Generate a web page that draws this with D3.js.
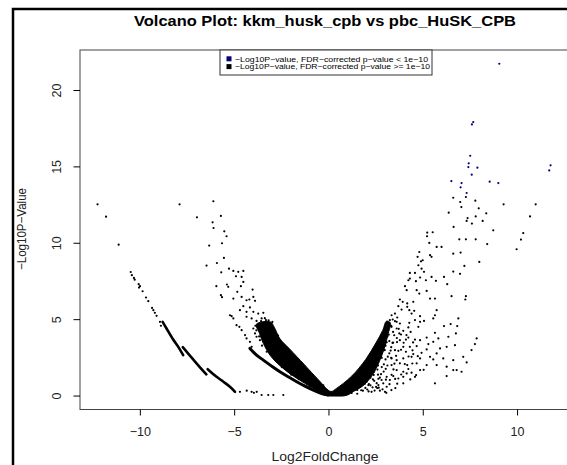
<!DOCTYPE html>
<html>
<head>
<meta charset="utf-8">
<script src="https://cdn.jsdelivr.net/npm/d3@7"></script>
<style>
  body { margin: 0; background: #fff; }
  svg { display: block; font-family: "Liberation Sans", Arial, sans-serif; }
</style>
</head>
<body>
<script>
// tick values
var xTicks = [-10, -5, 0, 5, 10];
var yTicks = [0, 5, 10, 15, 20];

var legendLabels = ["\u2212Log10P\u2212value,  FDR\u2212corrected p\u2212value < 1e\u221210",
                    "\u2212Log10P\u2212value, FDR\u2212corrected p\u2212value >= 1e\u221210"];

// genes with FDR-corrected p < 1e-10  [log2FC, -log10 p]
var sigPoints = [[9.03,21.75],[7.65,17.93],[7.58,17.78],[7.49,15.73],[7.41,15.23],[7.39,14.99],
  [7.87,14.95],[7.57,14.49],[6.49,14.07],[7.03,13.94],[6.98,13.66],[8.52,14.03],[8.98,13.94],
  [7.30,13.29],[11.75,15.10],[11.68,14.77]];

// up-regulated side, the rest
var rightPoints = [[6.59,12.98],[7.26,13.03],[6.96,12.70],[7.76,12.79],[7.02,12.37],[7.94,12.29],
  [9.26,12.55],[10.96,12.55],[6.35,12.0],[7.78,11.76],[8.34,11.96],[7.35,11.65],[7.30,11.46],
  [7.58,11.29],[8.15,11.46],[10.66,11.76],[6.61,11.07],[8.71,10.85],[5.21,10.70],[5.50,10.72],
  [5.20,10.46],[6.91,10.26],[7.26,10.26],[7.78,10.26],[10.30,10.67],[10.18,10.24],[5.32,10.02],
  [8.39,9.95],[5.71,9.76],[5.97,9.76],[9.95,9.61],
  [4.79,9.43],[4.70,9.11],[4.88,8.82],[4.97,8.89],[5.36,9.22],[5.44,9.11],[6.59,9.32],[6.98,9.39],
  [7.18,8.52],[6.59,8.15],[6.95,8.0],[7.97,8.78],[4.74,8.56],[4.91,8.34],[5.04,8.13],[4.29,8.06],
  [4.56,8.06],[4.21,7.58],[4.29,7.69],[4.03,7.19],[4.12,6.93],[4.61,7.52],[4.83,7.76],[5.14,7.58],
  [5.44,7.80],[5.67,7.54],[6.10,7.80],[6.27,7.32],[4.65,6.93],[4.79,6.71],[5.18,6.88],[5.62,6.38],
  [5.36,6.38],[6.50,6.54],[7.26,6.54],[7.23,6.32],[3.76,6.32],[3.91,6.17],[4.15,6.06],[4.47,6.17],
  [3.68,5.88],[3.85,5.66],[4.15,5.84],[4.26,5.62],[4.38,5.40],[4.52,5.58],[4.83,5.23],[3.50,5.40],
  [3.62,5.14],[3.32,5.29],[3.38,5.01],[5.71,5.62],[5.62,5.29],[5.53,5.08],[3.59,4.86],[3.76,4.75],
  [4.26,4.79],[4.56,4.97],[4.83,4.86],[5.04,4.92],[4.74,4.53],[4.21,4.49],[4.33,4.20],[3.94,4.27],
  [3.73,4.10],[3.23,4.97],[3.32,4.53],[3.59,4.42],[3.15,4.75],[3.76,3.66],[4.08,3.70],[4.21,3.83],
  [4.56,3.70],[4.83,3.66],[5.18,3.83],[5.62,4.14],[6.10,4.58],[6.45,4.71],[6.86,5.08],[6.80,4.58],
  [6.73,4.10],[6.33,3.88],[5.80,3.77],[5.53,3.55],[5.27,3.40],[4.65,3.27],[4.29,3.22],[3.94,3.22],
  [3.68,2.96],[4.08,2.90],[4.47,2.75],[4.91,2.83],[5.18,3.05],[5.71,2.79],[5.89,3.12],[6.24,3.22],
  [6.68,3.33],[7.83,3.77],[7.74,3.40],[7.56,3.01],[7.12,2.57],[6.59,2.35],[6.06,2.46],[5.53,2.40],
  [5.36,2.57],[4.83,2.46],[4.38,2.57],[3.94,2.46],[3.59,2.35],[3.32,2.46],[3.76,2.14],[4.15,2.03],
  [4.65,2.14],[5.18,2.03],[5.71,2.03],[6.24,1.92],[6.77,1.70],[7.30,2.20],[7.03,1.59],[3.32,2.03],
  [3.59,1.70],[3.94,1.59],[4.38,1.53],[4.83,1.70],[3.94,1.26],[4.12,1.48],[3.41,1.31],[3.06,1.26],
  [3.23,1.05],[3.68,1.15],[4.56,1.26],[5.62,0.83],[6.24,1.31],[6.59,1.70],[2.79,1.05],[2.88,0.83],
  [2.62,0.72],[3.06,0.61],[2.70,0.35],[2.26,0.28],[2.97,0.28],[1.82,1.05],[2.0,0.94],[2.09,0.72],
  [1.64,0.61],[3.94,0.83],[3.04,0.21],[2.56,0.52],
  [3.0,4.2],[3.1,3.9],[3.2,3.6],[3.0,3.3],[2.9,3.0],[3.3,3.2],[3.4,3.5],[3.5,3.0],[3.2,2.8],
  [2.8,2.5],[3.0,2.4],[3.3,2.5],[2.6,2.0],[2.8,1.9],[3.1,2.0],[2.4,1.6],[2.6,1.4],[2.9,1.6],
  [2.2,1.2],[2.4,1.0],[2.7,1.2],[1.9,0.8],[2.2,0.7],[2.5,0.6],[1.5,0.4],[1.8,0.35],[2.1,0.3],
  [1.2,0.2],[1.5,0.15],[3.6,3.8],[3.4,4.2],[3.7,4.4],[3.3,4.6],[3.5,4.9],
  [1.32,0.41],[1.71,0.38],[2.03,0.43],[2.42,0.36],[2.84,0.44],[3.31,0.39],[1.47,0.56],[1.93,0.53],
  [2.31,0.57],[2.64,0.55],[3.52,0.52],[1.63,0.82],[2.12,0.79],[2.53,0.84],[3.21,0.78],[3.62,0.81],
  [1.87,1.12],[2.33,1.09],[2.62,1.13],[3.02,1.07],[3.51,1.12],[4.31,1.09],[2.03,1.41],[2.37,1.38],
  [2.76,1.43],[3.32,1.39],[3.83,1.41],[4.62,1.37],[2.27,1.76],[2.57,1.73],[3.01,1.78],[3.42,1.74],
  [4.21,1.77],[5.02,1.72],[2.52,2.11],[2.91,2.08],[3.47,2.12],[4.02,2.09],[4.42,2.13],[2.76,2.62],
  [3.12,2.58],[3.56,2.63],[4.22,2.59],[4.71,2.61],[2.96,3.01],[3.27,2.98],[3.82,3.03],[4.43,2.99],
  [3.06,3.52],[3.37,3.48],[3.61,3.53],[3.96,3.49],[4.46,3.51],[3.17,4.02],[3.46,3.98],[3.82,4.03],
  [4.11,3.99]];

// down-regulated side, scattered
var leftPoints = [[-12.27,12.55],[-11.82,11.74],[-11.15,9.91],[-7.92,12.55],[-7.0,11.70],
  [-6.13,12.75],[-6.17,11.37],[-6.12,11.0],[-5.73,11.79],[-5.55,10.78],[-5.43,10.46],[-5.67,10.0],
  [-6.35,9.85],[-5.57,9.04],[-5.94,8.71],[-6.49,8.54],[-5.30,8.34],[-5.71,8.10],[-5.97,7.19],
  [-5.41,7.30],[-5.34,7.15],[-5.73,6.60],[-5.67,6.47],[-5.25,5.29],
  [-5.07,8.19],[-4.81,8.13],[-4.54,8.19],[-4.93,7.84],[-4.63,7.80],[-4.54,7.47],[-4.67,7.19],
  [-4.86,6.82],[-4.05,6.97],[-5.07,6.38],[-4.63,6.49],[-4.37,6.27],[-4.22,6.32],[-4.01,6.49],
  [-3.92,6.23],[-4.54,5.88],[-4.19,5.80],[-4.72,5.62],[-4.37,5.51],[-4.01,5.51],[-3.75,5.40],
  [-3.48,5.45],[-5.16,5.23],[-5.07,5.08],[-4.37,5.19],[-4.10,5.08],[-3.84,4.92],[-3.57,5.08],
  [-3.34,4.97],[-4.90,4.64],[-4.63,4.31],[-4.75,4.53],[-4.45,3.99],[-4.37,3.77],[-4.19,3.55],
  [-4.10,3.22],[-3.92,4.10],[-3.84,3.88],[-3.66,3.66],[-4.01,4.42],[-3.75,4.53],[-3.48,4.42],
  [-3.31,4.20],[-3.6,4.9],[-3.4,5.1],[-3.2,4.95],[-3.0,4.85],[-3.9,4.6],
  [-3.85,4.3],[-3.7,3.9],[-3.55,3.3],[-3.3,2.9],[-2.8,2.3],[-2.5,1.9],[-2.0,1.4],[-1.6,1.1],
  [-1.0,0.65],[-2.7,3.95],[-2.4,3.3],[-2.0,2.75],[-1.6,2.2],[-1.1,1.6],[-0.7,1.15],[-0.3,0.7],
  [-10.51,8.12],[-10.45,7.91],[-10.34,7.73],[-10.30,7.62],[-10.09,7.32],[-10.02,7.19],[-10.07,7.10],
  [-9.88,6.86],[-9.70,6.45],[-9.58,6.21],[-9.38,5.77],[-9.31,5.62],[-9.23,5.45],[-9.14,5.25],
  [-8.96,4.86],[-8.91,4.60],
  [-4.72,0.28],[-4.36,0.35],[-4.10,0.28],[-3.98,0.21],[-3.83,0.28],[-3.57,0.07],[-3.22,0.07],
  [-2.95,0.07],[-2.42,0.07]];

// runs of overlapping points that show as solid strokes
var leftArcA = [[-8.82,4.86],[-8.61,4.42],[-8.26,3.70],[-7.99,3.22],[-7.73,2.68]];
var leftArcB = [[-7.75,3.2],[-7.2,2.4],[-6.85,1.9],[-6.5,1.42]];
var leftArcC = [[-6.43,1.76],[-5.96,1.26],[-5.60,0.94],[-5.25,0.61],[-4.98,0.28]];
var leftBand = [[-4.19,3.12],[-3.84,2.68],[-3.48,2.35],[-3.04,1.96],[-2.60,1.59],[-2.16,1.26],
  [-1.71,0.94],[-1.27,0.65],[-0.83,0.39],[-0.39,0.17],[-0.04,0.07]];

// outline of the solid mass of points around zero
var coreOutline = [[-3.85,4.7],[-3.68,4.1],[-3.48,3.45],[-3.08,2.6],[-2.3,1.68],[-1.3,0.85],
  [-0.6,0.32],[-0.2,0.05],[0.3,0],[0.95,0.05],[1.3,0.3],[1.75,0.62],[2.2,1.2],[2.5,1.8],[2.75,2.5],
  [2.98,3.3],[3.12,4.0],[3.25,4.8],[3.05,4.9],[2.85,4.3],[2.5,3.5],[1.95,2.4],[1.2,1.3],[0.4,0.5],
  [0.1,0.3],[-0.55,1.05],[-1.3,2.05],[-2.1,3.1],[-2.6,3.75],[-2.9,4.5],[-3.1,4.85]];

var width = 567;
var height = 465;

var svg = d3.select("body").append("svg")
  .attr("width", width)
  .attr("height", height);

var x = d3.scaleLinear().domain([-13.2, 12.78]).range([80, 570]);
var y = d3.scaleLinear().domain([-0.88, 22.65]).range([409.5, 50]);

// outer device frame
svg.append("rect")
  .attr("x", 13).attr("y", 9)
  .attr("width", 620).attr("height", 520)
  .attr("fill", "none")
  .attr("stroke", "#000")
  .attr("stroke-width", 2.5);

// plot box
svg.append("rect")
  .attr("x", 80).attr("y", 50)
  .attr("width", 520).attr("height", 359.5)
  .attr("fill", "none")
  .attr("stroke", "#444")
  .attr("stroke-width", 1);

var pts = svg.append("g");

pts.append("path")
  .datum(coreOutline)
  .attr("d", d3.line().curve(d3.curveCatmullRomClosed)
    .x(function (d) { return x(d[0]); }).y(function (d) { return y(d[1]); }))
  .attr("fill", "#000")
  .attr("stroke", "#000")
  .attr("stroke-width", 1)
  .attr("stroke-linejoin", "round");

var line = d3.line()
  .curve(d3.curveCatmullRom)
  .x(function (d) { return x(d[0]); })
  .y(function (d) { return y(d[1]); });

[leftArcA, leftArcB, leftArcC].forEach(function (arc) {
  pts.append("path")
    .datum(arc)
    .attr("d", line)
    .attr("fill", "none")
    .attr("stroke", "#000")
    .attr("stroke-width", 2.6)
    .attr("stroke-linecap", "round");
});

pts.append("path")
  .datum(leftBand)
  .attr("d", line)
  .attr("fill", "none")
  .attr("stroke", "#000")
  .attr("stroke-width", 3)
  .attr("stroke-linecap", "round");

pts.selectAll("circle.dn")
  .data(leftPoints.concat(rightPoints))
  .enter().append("circle")
  .attr("class", "dn")
  .attr("cx", function (d) { return x(d[0]); })
  .attr("cy", function (d) { return y(d[1]); })
  .attr("r", 1.1)
  .attr("fill", "#000");

pts.selectAll("circle.sig")
  .data(sigPoints)
  .enter().append("circle")
  .attr("class", "sig")
  .attr("cx", function (d) { return x(d[0]); })
  .attr("cy", function (d) { return y(d[1]); })
  .attr("r", 1.1)
  .attr("fill", "#000080");

// x axis
var xAxis = svg.append("g");
xAxis.selectAll("line")
  .data(xTicks)
  .enter().append("line")
  .attr("x1", function (d) { return x(d); })
  .attr("x2", function (d) { return x(d); })
  .attr("y1", 409.5).attr("y2", 415.5)
  .attr("stroke", "#000");
xAxis.selectAll("text")
  .data(xTicks)
  .enter().append("text")
  .attr("x", function (d) { return x(d); })
  .attr("y", 436)
  .attr("text-anchor", "middle")
  .attr("font-size", 12.5)
  .attr("fill", "#222")
  .text(function (d) { return d < 0 ? "\u2212" + Math.abs(d) : d; });

// y axis
var yAxis = svg.append("g");
yAxis.selectAll("line")
  .data(yTicks)
  .enter().append("line")
  .attr("x1", 73.5).attr("x2", 80)
  .attr("y1", function (d) { return y(d); })
  .attr("y2", function (d) { return y(d); })
  .attr("stroke", "#000");
yAxis.selectAll("text")
  .data(yTicks)
  .enter().append("text")
  .attr("transform", function (d) { return "translate(61," + y(d) + ") rotate(-90)"; })
  .attr("text-anchor", "middle")
  .attr("font-size", 12.5)
  .attr("fill", "#222")
  .text(function (d) { return d; });

// titles
svg.append("text")
  .attr("x", 325).attr("y", 26)
  .attr("text-anchor", "middle")
  .attr("font-weight", "bold")
  .attr("font-size", 14.4)
  .attr("textLength", 382)
  .attr("lengthAdjust", "spacingAndGlyphs")
  .text("Volcano Plot: kkm_husk_cpb vs pbc_HuSK_CPB");

svg.append("text")
  .attr("x", 325).attr("y", 461)
  .attr("text-anchor", "middle")
  .attr("font-size", 12.5)
  .attr("fill", "#222")
  .attr("textLength", 107)
  .attr("lengthAdjust", "spacingAndGlyphs")
  .text("Log2FoldChange");

svg.append("text")
  .attr("transform", "translate(26,229) rotate(-90)")
  .attr("text-anchor", "middle")
  .attr("font-size", 12.5)
  .attr("fill", "#222")
  .attr("textLength", 82)
  .attr("lengthAdjust", "spacingAndGlyphs")
  .text("\u2212Log10P\u2212Value");

// legend
var legend = svg.append("g");
legend.append("rect")
  .attr("x", 220).attr("y", 50)
  .attr("width", 212).attr("height", 25)
  .attr("fill", "#fff")
  .attr("stroke", "#333");
var legendColors = ["#000080", "#000"];
legendLabels.forEach(function (lab, i) {
  legend.append("rect")
    .attr("x", 226.5).attr("y", 56.3 + i * 7.8)
    .attr("width", 5).attr("height", 5)
    .attr("fill", legendColors[i]);
  legend.append("text")
    .attr("x", 235).attr("y", 61.5 + i * 7.8)
    .attr("font-size", 7.5)
    .attr("textLength", 193 + i * 2)
    .attr("lengthAdjust", "spacingAndGlyphs")
    .text(lab);
});
</script>
</body>
</html>
